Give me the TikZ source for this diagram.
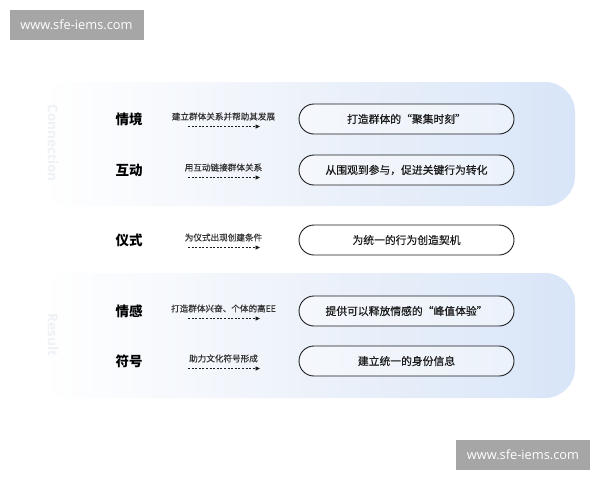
\documentclass[tikz,border=0pt]{standalone}
\usepackage{fontspec}
\setmainfont{Noto Sans CJK SC}
\newfontfamily\cjkmed[FakeBold=0.5]{Noto Sans CJK SC}
\newfontfamily\wmfont{Open Sans}
\newfontfamily\latfont{Open Sans}
\usetikzlibrary{arrows.meta}
\definecolor{panelblue}{RGB}{216,229,248}
\definecolor{panelmid}{RGB}{237,242,250}
\definecolor{wmgray}{RGB}{166,166,166}
\definecolor{inkc}{RGB}{28,28,28}
\definecolor{faintc}{RGB}{238,241,245}
\begin{document}
\begin{tikzpicture}[x=1pt,y=-1pt,
  label/.style={font=\fontsize{13.5}{14}\selectfont\bfseries, text=black, inner sep=0pt},
  small/.style={font=\cjkmed\fontsize{8.6}{9}\selectfont, text=inkc!90, inner sep=0pt},
  pill/.style={draw=inkc, line width=0.9pt, rounded corners=15pt, minimum width=215pt, minimum height=30pt, fill=white, fill opacity=0.45, text opacity=1, font=\cjkmed\fontsize{10.8}{12}\selectfont, text=inkc, inner sep=0pt},
  dasharrow/.style={line width=0.8pt, inkc, dash pattern=on 2pt off 1.6pt, -{Triangle[length=4.5pt,width=4pt]}},
  wm/.style={fill=wmgray, minimum width=134pt, minimum height=30pt, inner sep=0pt, text=white, font=\wmfont\fontsize{12.8}{13}\selectfont},
  faint/.style={font=\latfont\fontsize{13.5}{14}\selectfont\bfseries, text=faintc, rotate=-90, inner sep=0pt}
]
\useasboundingbox (0,0) rectangle (600,480);
\fill[white] (0,0) rectangle (600,480);
% panels
\shade[rounded corners=30pt, left color=white, right color=panelblue, middle color=panelmid] (40,82) rectangle (575,206);
\shade[rounded corners=30pt, left color=white, right color=panelblue, middle color=panelmid] (40,273) rectangle (575,398);
\node[faint] (f1) at (53,143) {Connection};
\node[faint] (f2) at (53,335) {Result};
% watermarks
\node[wm] (w1) at (76.5,24.5) {www.sfe-iems.com};
\node[wm] (w2) at (523,455) {www.sfe-iems.com};
% rows
\foreach \n/\y/\lab/\mid/\res in {
  1/119/情境/建立群体关系并帮助其发展/打造群体的“聚集时刻”,
  2/170/互动/用互动链接群体关系/从围观到参与，促进关键行为转化,
  3/240/仪式/为仪式出现创建条件/为统一的行为创造契机,
  4/311/情感/打造群体兴奋、个体的高EE/提供可以释放情感的“峰值体验”,
  5/361/符号/助力文化符号形成/建立统一的身份信息}{
  \node[label] (l\n) at (129,\y) {\lab};
  \node[small] (m\n) at (223.5,\y-2.5) {\mid};
  \coordinate (s\n) at (188,\y+7.5);
  \coordinate (e\n) at (260,\y+7.5);
  \draw[dasharrow] (s\n) -- (e\n);
  \node[pill] (p\n) at (406.5,\y) {\res};
}
\end{tikzpicture}
\end{document}
